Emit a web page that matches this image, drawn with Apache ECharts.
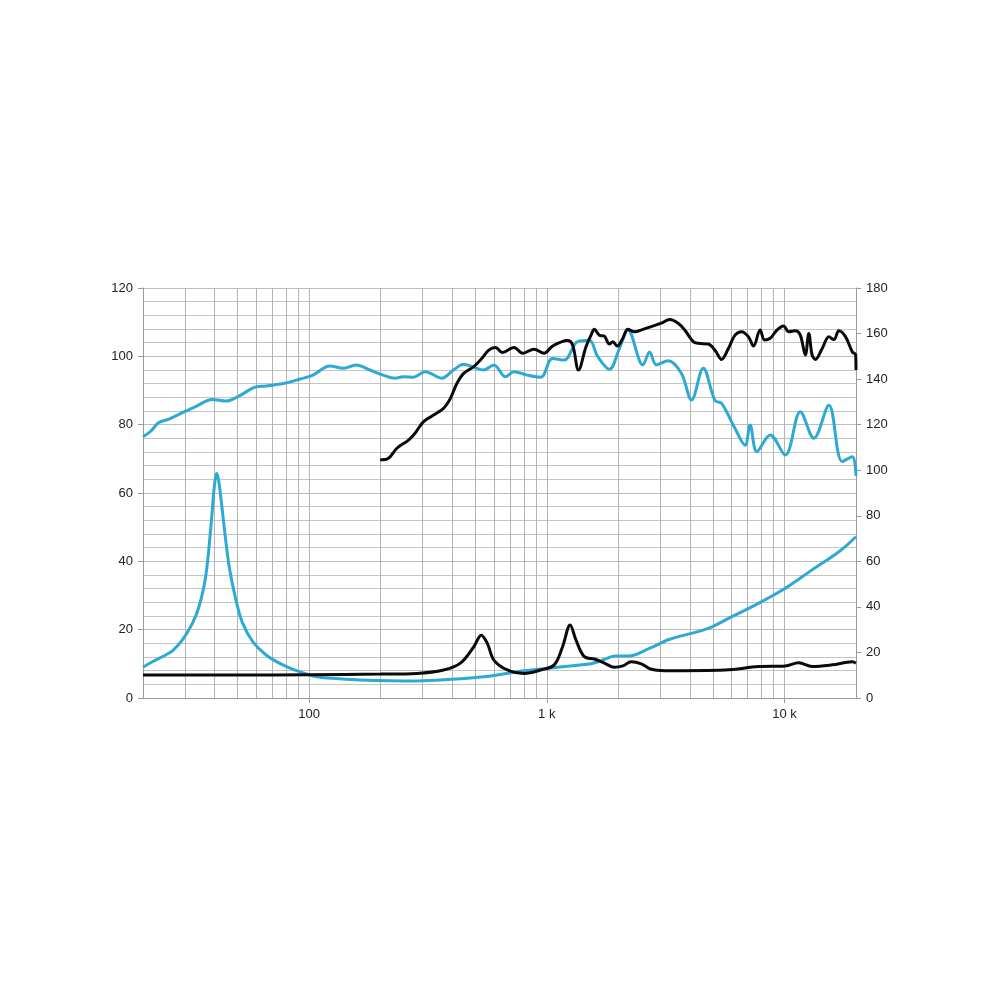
<!DOCTYPE html>
<html>
<head>
<meta charset="utf-8">
<script src="https://cdn.jsdelivr.net/npm/echarts@6/dist/echarts.min.js"></script>
<style>
html,body{margin:0;padding:0;background:#fff;}
#chart{width:1000px;height:1000px;}
</style>
</head>
<body>
<div id="chart"></div>
<script>
// Blue SPL curve [Hz, value on left axis]
const blueSpl = [[20,76.5],[21.5,78],[23.3,80.6],[25.7,81.6],[29.3,83.5],[33.3,85.3],[39.2,87.4],[44.7,86.9],[50.8,88.4],[58.8,90.9],[65.9,91.3],[78.8,92.1],[91.1,93.3],[103.8,94.5],[122,97.2],[139,96.5],[158,97.5],[180,96.0],[205,94.5],[230,93.6],[249,94.0],[275,93.9],[308,95.5],[362,93.6],[405,96.0],[447,97.7],[493,96.8],[543,96.0],[599,97.5],[671,94.0],[727,95.5],[829,94.5],[943,93.9],[1057,99.4],[1184,98.9],[1349,104.3],[1510,104.6],[1639,99.9],[1834,96.2],[2022,102.3],[2193,107.7],[2539,97.5],[2708,101.3],[2891,97.5],[3239,98.7],[3686,95.0],[4063,87.2],[4554,96.5],[5098,87.1],[5441,86.2],[6194,78.9],[6828,74.0],[7170,79.9],[7650,72.1],[8710,77.0],[10080,71.1],[11660,83.8],[13290,76.0],[15380,85.7],[17500,69.2],[19300,70.6],[20000,65]];
// Black SPL curve
const blackSpl = [[199,69.7],[215,70.1],[234,73.1],[262,75.5],[279,77.5],[303,80.9],[334,82.8],[368,84.8],[393,87.7],[419,92.1],[447,95.0],[493,97.0],[526,98.9],[570,101.8],[609,102.6],[650,101.1],[728,102.6],[790,100.9],[884,102.1],[974,100.9],[1057,103.0],[1223,104.6],[1284,103.3],[1360,96.0],[1462,102.8],[1535,106.2],[1585,107.9],[1664,106.2],[1747,105.9],[1834,103.6],[1896,104.3],[1977,103.0],[2090,105.3],[2193,107.9],[2339,107.2],[2539,107.9],[2753,108.7],[3034,109.7],[3289,110.8],[3570,109.7],[3806,107.7],[4132,104.3],[4337,103.8],[4780,103.6],[5098,101.8],[5441,99.1],[5809,102.3],[6194,106.2],[6611,107.2],[7058,105.7],[7410,103.0],[7902,107.7],[8249,104.8],[8710,105.3],[9297,107.7],[9922,108.9],[10420,107.2],[11110,107.5],[11660,106.2],[12240,100.4],[12660,106.7],[13070,100.4],[13500,99.1],[14410,102.3],[15380,105.7],[16140,104.9],[16950,107.5],[18080,105.7],[19300,101.3],[19930,100.5],[20000,96]];
// Blue lower (impedance-like) curve
const blueImp = [[20,9.0],[21.9,10.6],[24.9,12.6],[26.6,13.8],[29.3,17.0],[32.3,21.9],[34.4,26.7],[36.7,35.5],[38.6,50.1],[39.9,61.8],[40.8,65.8],[41.8,62.8],[43.9,50.1],[46.1,38.4],[49.2,28.7],[52.5,21.9],[57.9,16.5],[65.9,12.6],[77.5,9.7],[91.1,7.7],[107.3,6.2],[126,5.8],[164,5.3],[284,5.0],[543,6.2],[752,7.7],[1007,8.7],[1349,9.6],[1535,10.0],[1700,11.0],[1950,12.3],[2200,12.3],[2700,14.5],[3290,17.2],[4780,20.4],[6000,23.8],[7780,27.7],[10080,32.1],[13070,37.5],[16950,42.8],[20000,47.2]];
// Black lower curve
const blackImp = [[20,6.7],[50,6.7],[100,6.8],[200,7.0],[284,7.2],[368,8.2],[433,10.2],[493,15.0],[530,18.4],[562,16.0],[599,11.1],[682,8.2],[802,7.2],[943,8.2],[1074,9.7],[1165,15.0],[1254,21.4],[1326,17.0],[1438,12.1],[1585,11.4],[1747,10.2],[1926,9.0],[2090,9.4],[2265,10.6],[2498,10.0],[2753,8.4],[3133,8.0],[5620,8.2],[7780,9.2],[10080,9.4],[11480,10.3],[13070,9.2],[15880,9.7],[19300,10.6],[20000,10.2]];
// Vertical grid frequencies (log minor grid)
const gridFreqs = [30,40,50,60,70,80,90,100,200,300,400,500,600,700,800,900,1000,2000,3000,4000,5000,6000,7000,8000,9000,10000];
const xTickLabels = {100:'100',1000:'1 k',10000:'10 k'};

const BLUE = '#2EA9D3';
const BLACK = '#0a0a0a';
const chart = echarts.init(document.getElementById('chart'), null, {renderer:'canvas'});
const lineSeries = (data, color) => ({
  type:'line', data, yAxisIndex:0, showSymbol:false, symbol:'none', smooth:0.35,
  lineStyle:{color, width:3}, z:5, animation:false, clip:true
});
chart.setOption({
  animation:false,
  grid:{left:143, right:144, top:288, bottom:302, containLabel:false},
  xAxis:{
    type:'log', logBase:10, min:20, max:20000,
    axisLine:{show:true, lineStyle:{color:'#9a9a9a', width:1}},
    axisTick:{show:true, length:5, lineStyle:{color:'#9a9a9a'}},
    axisLabel:{color:'#222', fontSize:13, fontFamily:'Arial, "Liberation Sans", sans-serif', margin:10,
      showMinLabel:false, showMaxLabel:false,
      formatter:v => { const r = Math.round(v); return xTickLabels[r] || ''; }},
    splitLine:{show:false}
  },
  yAxis:[
    {type:'value', min:0, max:120, interval:20, position:'left',
     axisLine:{show:true, lineStyle:{color:'#9a9a9a'}},
     axisTick:{show:true, length:5, lineStyle:{color:'#9a9a9a'}},
     axisLabel:{color:'#222', fontSize:13, fontFamily:'Arial, "Liberation Sans", sans-serif', margin:10},
     splitLine:{show:true, lineStyle:{color:'#bdbdbd', width:1}},
     minorTick:{show:false, splitNumber:5},
     minorSplitLine:{show:true, lineStyle:{color:'#c4c4c4', width:1}}
    },
    {type:'value', min:0, max:180, interval:20, position:'right',
     axisLine:{show:true, lineStyle:{color:'#9a9a9a'}},
     axisTick:{show:true, length:5, lineStyle:{color:'#9a9a9a'}},
     axisLabel:{color:'#222', fontSize:13, fontFamily:'Arial, "Liberation Sans", sans-serif', margin:10},
     splitLine:{show:false}
    }
  ],
  series:[
    {type:'line', data:[], z:1, silent:true,
     markLine:{silent:true, symbol:['none','none'], label:{show:false}, animation:false,
       lineStyle:{color:'#b4b4b4', width:1, type:'solid'},
       data: gridFreqs.map(f => ({xAxis:f}))}},
    lineSeries(blueImp, BLUE),
    lineSeries(blueSpl, BLUE),
    lineSeries(blackImp, BLACK),
    lineSeries(blackSpl, BLACK)
  ]
});
</script>
</body>
</html>
